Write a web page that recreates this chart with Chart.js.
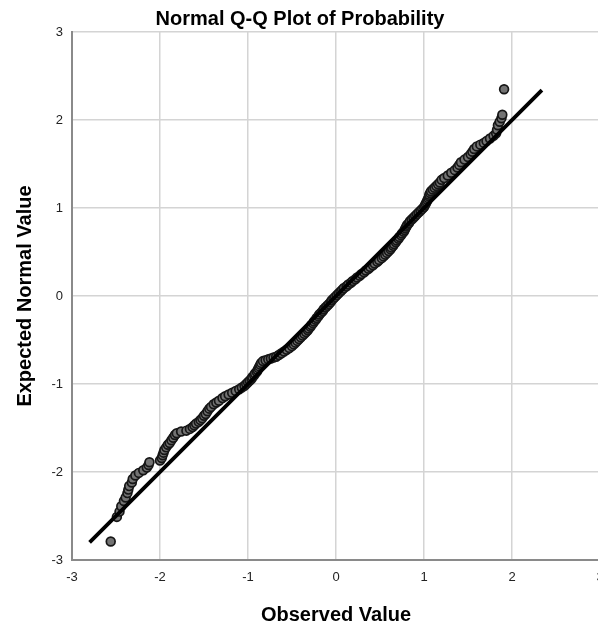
<!DOCTYPE html>
<html>
<head>
<meta charset="utf-8">
<script src="https://cdn.jsdelivr.net/npm/chart.js@4/dist/chart.umd.min.js"></script>
<style>
  html, body { margin: 0; padding: 0; background: #fff; overflow: hidden; }
  #wrap { width: 620px; height: 627px; }
</style>
</head>
<body>
<div id="wrap"><canvas id="qq" width="620" height="627"></canvas></div>
<script>
const expectedVals = [
  -2.79, -2.51, -2.45, -2.39, -2.33, -2.29, -2.24, -2.20, -2.16, -2.12,
  -2.08, -2.04, -2.01, -1.98, -1.95, -1.92, -1.89, -1.87, -1.84, -1.81,
  -1.78, -1.75, -1.72, -1.69, -1.67, -1.64, -1.61, -1.58, -1.56, -1.54,
  -1.53, -1.51, -1.49, -1.47, -1.45, -1.43, -1.41, -1.39, -1.36, -1.34,
  -1.31, -1.28, -1.26, -1.23, -1.21, -1.19, -1.16, -1.14, -1.12, -1.10,
  -1.08, -1.06, -1.04, -1.02, -1.00, -0.98, -0.96, -0.94, -0.92, -0.90,
  -0.88, -0.86, -0.84, -0.82, -0.80, -0.78, -0.76, -0.74, -0.73, -0.72,
  -0.71, -0.70, -0.69, -0.67, -0.65, -0.63, -0.61, -0.59, -0.57, -0.55,
  -0.53, -0.51, -0.49, -0.47, -0.45, -0.43, -0.41, -0.39, -0.37, -0.35,
  -0.33, -0.31, -0.29, -0.27, -0.25, -0.23, -0.21, -0.19, -0.17, -0.15,
  -0.13, -0.11, -0.09, -0.07, -0.05, -0.03, -0.01, 0.01, 0.03, 0.05,
  0.07, 0.09, 0.11, 0.13, 0.15, 0.17, 0.19, 0.21, 0.23, 0.25,
  0.27, 0.29, 0.31, 0.33, 0.35, 0.37, 0.39, 0.41, 0.43, 0.45,
  0.47, 0.49, 0.51, 0.53, 0.55, 0.57, 0.59, 0.61, 0.63, 0.65,
  0.67, 0.69, 0.71, 0.73, 0.75, 0.77, 0.79, 0.81, 0.83, 0.85,
  0.87, 0.89, 0.91, 0.93, 0.95, 0.97, 0.99, 1.01, 1.03, 1.05,
  1.07, 1.09, 1.11, 1.13, 1.15, 1.17, 1.19, 1.21, 1.23, 1.25,
  1.27, 1.29, 1.32, 1.34, 1.37, 1.40, 1.43, 1.46, 1.49, 1.52,
  1.55, 1.58, 1.61, 1.64, 1.67, 1.70, 1.72, 1.74, 1.76, 1.79,
  1.82, 1.85, 1.89, 1.94, 1.98, 2.02, 2.06, 2.35
];
const observedVals = [
  -2.56, -2.49, -2.46, -2.44, -2.41, -2.39, -2.37, -2.36, -2.35, -2.32,
  -2.31, -2.28, -2.24, -2.19, -2.15, -2.13, -2.12, -2.00, -1.98, -1.97,
  -1.96, -1.95, -1.93, -1.91, -1.89, -1.87, -1.85, -1.83, -1.81, -1.76,
  -1.70, -1.66, -1.63, -1.61, -1.59, -1.56, -1.54, -1.52, -1.50, -1.48,
  -1.46, -1.44, -1.42, -1.39, -1.36, -1.33, -1.29, -1.26, -1.22, -1.18,
  -1.14, -1.10, -1.07, -1.04, -1.02, -1.00, -0.98, -0.96, -0.95, -0.93,
  -0.92, -0.90, -0.89, -0.88, -0.87, -0.86, -0.85, -0.83, -0.80, -0.77,
  -0.74, -0.71, -0.68, -0.65, -0.62, -0.59, -0.56, -0.53, -0.50, -0.48,
  -0.46, -0.44, -0.42, -0.40, -0.38, -0.36, -0.34, -0.32, -0.31, -0.29,
  -0.28, -0.26, -0.25, -0.23, -0.22, -0.20, -0.19, -0.17, -0.15, -0.14,
  -0.12, -0.10, -0.08, -0.06, -0.05, -0.03, -0.01, 0.01, 0.03, 0.05,
  0.07, 0.09, 0.12, 0.14, 0.17, 0.19, 0.22, 0.24, 0.27, 0.29,
  0.32, 0.34, 0.37, 0.39, 0.42, 0.44, 0.47, 0.49, 0.52, 0.54,
  0.56, 0.58, 0.60, 0.62, 0.63, 0.65, 0.66, 0.68, 0.69, 0.71,
  0.72, 0.74, 0.75, 0.77, 0.78, 0.79, 0.80, 0.81, 0.83, 0.84,
  0.86, 0.88, 0.90, 0.92, 0.94, 0.96, 0.98, 1.00, 1.01, 1.02,
  1.03, 1.04, 1.05, 1.06, 1.06, 1.07, 1.08, 1.10, 1.12, 1.14,
  1.16, 1.18, 1.20, 1.23, 1.27, 1.31, 1.35, 1.38, 1.40, 1.42,
  1.46, 1.50, 1.53, 1.55, 1.57, 1.60, 1.64, 1.68, 1.71, 1.75,
  1.79, 1.82, 1.83, 1.84, 1.86, 1.88, 1.89, 1.91
];
// reference line end points
const refLineX = [-2.8, 2.34];
const refLineY = [-2.8, 2.34];
const tickVals = [-3, -2, -1, 0, 1, 2, 3];

const pts = observedVals.map((x, i) => ({x: x, y: expectedVals[i]}));
const refPts = refLineX.map((x, i) => ({x: x, y: refLineY[i]}));

const font = "'Liberation Sans', Arial, Helvetica, sans-serif";

new Chart(document.getElementById('qq'), {
  type: 'scatter',
  data: {
    datasets: [
      {
        type: 'line',
        data: refPts,
        borderColor: '#000',
        borderWidth: 3.8,
        pointRadius: 0,
        fill: false,
        order: 0
      },
      {
        data: pts,
        backgroundColor: '#737373',
        borderColor: '#161616',
        borderWidth: 1.7,
        pointRadius: 4.4,
        order: 1
      }
    ]
  },
  options: {
    responsive: false,
    animation: false,
    devicePixelRatio: 1,
    layout: { padding: { left: 0, right: 20, top: 0, bottom: 0 } },
    plugins: {
      legend: { display: false },
      tooltip: { enabled: false },
      title: {
        display: true,
        text: 'Normal Q-Q Plot of Probability',
        color: '#000',
        font: { family: font, size: 20, weight: 'bold' },
        padding: { top: 7, bottom: 1 }
      }
    },
    scales: {
      x: {
        type: 'linear',
        min: -3,
        max: 3,
        afterBuildTicks: s => { s.ticks = tickVals.map(v => ({value: v})); },
        afterFit: s => { s.height = 67; },
        grid: { color: '#d4d4d4', lineWidth: 1.5, drawTicks: false },
        border: { color: '#8a8a8a', width: 2 },
        ticks: {
          padding: 10,
          color: '#222',
          font: { family: font, size: 13 },
          maxRotation: 0
        },
        title: {
          display: true,
          text: 'Observed Value',
          color: '#000',
          font: { family: font, size: 20, weight: 'bold' },
          padding: { top: 0, bottom: 0 }
        }
      },
      y: {
        type: 'linear',
        min: -3,
        max: 3,
        afterBuildTicks: s => { s.ticks = tickVals.map(v => ({value: v})); },
        afterFit: s => { s.width = 72; },
        grid: { color: '#d4d4d4', lineWidth: 1.5, drawTicks: false },
        border: { color: '#8a8a8a', width: 2 },
        ticks: {
          padding: 9,
          color: '#222',
          font: { family: font, size: 13 }
        },
        title: {
          display: true,
          text: 'Expected Normal Value',
          color: '#000',
          font: { family: font, size: 20, weight: 'bold' },
          padding: { top: 13, bottom: 0 }
        }
      }
    }
  }
});
</script>
</body>
</html>
